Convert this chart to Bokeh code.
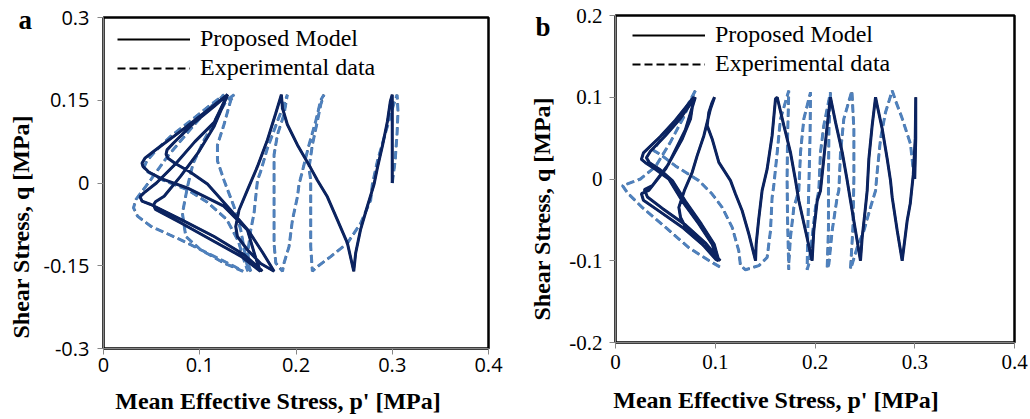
import math
from bokeh.plotting import figure
from bokeh.layouts import row
from bokeh.models import FixedTicker, Legend, LegendItem, Range1d, Title
from bokeh.embed import file_html
from bokeh.resources import INLINE

# ---------------- data ----------------
A_XTICKS = [0, 0.1, 0.2, 0.3, 0.4]
A_XLABELS = ["0", "0.1", "0.2", "0.3", "0.4"]
A_YTICKS = [-0.3, -0.15, 0, 0.15, 0.3]
A_YLABELS = ["-0.3", "-0.15", "0", "0.15", "0.3"]
B_XTICKS = [0, 0.1, 0.2, 0.3, 0.4]
B_XLABELS = ["0", "0.1", "0.2", "0.3", "0.4"]
B_YTICKS = [-0.2, -0.1, 0, 0.1, 0.2]
B_YLABELS = ["-0.2", "-0.1", "0", "0.1", "0.2"]

A_MODEL_P = [0.300, 0.300, 0.300,
             0.298, 0.295, 0.290, 0.2845, 0.281, 0.274, 0.267, 0.262, 0.260,
             0.2534, 0.243, 0.2326, 0.2222, 0.2153, 0.2015, 0.191, 0.1859, 0.1848,
             0.1789, 0.1703, 0.160, 0.1495, 0.1408, 0.1374, 0.1391, 0.1495, 0.1633, 0.1772,
             0.165, 0.150, 0.130, 0.108, 0.090, 0.075, 0.067, 0.065,
             0.066, 0.073, 0.094, 0.115, 0.129,
             0.115, 0.098, 0.080, 0.063, 0.054, 0.052,
             0.054, 0.080, 0.115, 0.143, 0.163,
             0.158, 0.1495, 0.125, 0.087, 0.060, 0.047, 0.041, 0.040,
             0.043, 0.0526, 0.0803, 0.1045, 0.1288,
             0.115, 0.095, 0.075, 0.055, 0.042, 0.038,
             0.040, 0.0492, 0.0803, 0.1149, 0.1461, 0.1634, 0.165]
A_MODEL_Q = [0.000, 0.080, 0.160,
             0.148, 0.112, 0.069, 0.027, -0.003, -0.043, -0.085, -0.127, -0.160,
             -0.109, -0.067, -0.025, 0.005, 0.027, 0.069, 0.106, 0.136, 0.160,
             0.126, 0.078, 0.030, -0.013, -0.049, -0.079, -0.097, -0.121, -0.146, -0.160,
             -0.125, -0.085, -0.045, -0.002, 0.020, 0.035, 0.045, 0.052,
             0.060, 0.073, 0.109, 0.139, 0.160,
             0.103, 0.054, 0.012, -0.024, -0.034, -0.040,
             -0.048, -0.072, -0.106, -0.133, -0.160,
             -0.135, -0.085, -0.042, -0.009, 0.008, 0.020, 0.030, 0.036,
             0.045, 0.058, 0.094, 0.127, 0.160,
             0.110, 0.075, 0.035, 0.000, -0.018, -0.025,
             -0.033, -0.039, -0.066, -0.097, -0.130, -0.157, -0.160]

A_EXP_P = [0.300, 0.303, 0.305, 0.306, 0.305,
           0.301, 0.297, 0.2914, 0.2845, 0.2793, 0.2776, 0.2672, 0.2534, 0.236, 0.2222, 0.217,
           0.2153, 0.2153, 0.2153, 0.2135, 0.217, 0.2222, 0.2257, 0.229,
           0.2257, 0.2205, 0.2135, 0.2083, 0.2031, 0.2015, 0.1963, 0.1928, 0.1875, 0.186,
           0.179, 0.1772, 0.1772, 0.1772, 0.1772, 0.1807, 0.1875, 0.191,
           0.187, 0.1807, 0.1703, 0.1633, 0.160, 0.1564, 0.153, 0.150, 0.151, 0.153,
           0.1495, 0.1426, 0.1356, 0.1252, 0.1184, 0.1184, 0.1252, 0.1322, 0.1357,
           0.128, 0.118, 0.1045, 0.093, 0.0872, 0.082, 0.0855, 0.101, 0.125, 0.145,
           0.1357, 0.1149, 0.0803, 0.0492, 0.0353, 0.0312, 0.0336, 0.0492, 0.0665, 0.0872, 0.108, 0.1218, 0.1253,
           0.110, 0.090, 0.070, 0.055, 0.045, 0.042, 0.046, 0.062, 0.087, 0.108, 0.128, 0.140, 0.146, 0.150]
A_EXP_Q = [0.000, 0.040, 0.090, 0.130, 0.160,
           0.140, 0.115, 0.0815, 0.039, -0.003, -0.031, -0.073, -0.109, -0.1335, -0.1516, -0.160,
           -0.115, -0.055, 0.005, 0.027, 0.069, 0.112, 0.142, 0.160,
           0.150, 0.112, 0.069, 0.033, -0.003, -0.025, -0.067, -0.115, -0.1455, -0.160,
           -0.145, -0.110, -0.050, -0.003, 0.051, 0.0875, 0.124, 0.160,
           0.140, 0.112, 0.063, 0.021, 0.005, -0.055, -0.085, -0.125, -0.150, -0.160,
           -0.152, -0.085, -0.043, 0.005, 0.040, 0.069, 0.106, 0.150, 0.160,
           0.150, 0.120, 0.078, 0.035, -0.007, -0.055, -0.097, -0.121, -0.145, -0.160,
           -0.151, -0.133, -0.103, -0.0785, -0.060, -0.045, -0.030, 0.006, 0.048, 0.091, 0.133, 0.154, 0.160,
           0.140, 0.112, 0.085, 0.060, 0.040, 0.028, 0.020, 0.005, -0.012, -0.035, -0.066, -0.105, -0.140, -0.160]

B_MODEL_P = [0.300, 0.301, 0.301, 0.3005, 0.2985, 0.2955, 0.2924, 0.2874,
             0.2824, 0.2774, 0.2757, 0.2724, 0.2674, 0.2624, 0.2607,
             0.2573, 0.254, 0.2523, 0.2506, 0.2473, 0.2456,
             0.2406, 0.2356, 0.2323, 0.2273, 0.2206, 0.2155,
             0.2122, 0.2088, 0.2055, 0.2022, 0.1988, 0.1971,
             0.1905, 0.1838, 0.1805, 0.1754, 0.1688, 0.1621,
             0.1604, 0.157, 0.152, 0.147, 0.1435, 0.141, 0.1404,
             0.1337, 0.127, 0.1203, 0.1153, 0.1036, 0.0969, 0.0919, 0.0936, 0.0969, 0.0993,
             0.0952, 0.0919, 0.0886, 0.0819, 0.0769, 0.069, 0.0635, 0.0652, 0.0702, 0.0869, 0.1003, 0.103,
             0.097, 0.0835, 0.0669, 0.0534, 0.040, 0.030, 0.026,
             0.028, 0.045, 0.060, 0.0785,
             0.0752, 0.0669, 0.0501, 0.0334, 0.026,
             0.028, 0.0434, 0.0669, 0.087, 0.1036,
             0.099, 0.086, 0.070, 0.057, 0.044, 0.034, 0.031,
             0.035, 0.050, 0.065, 0.080,
             0.070, 0.053, 0.037, 0.029,
             0.032, 0.047, 0.070, 0.090, 0.105]
B_MODEL_Q = [0.000, 0.050, 0.100, 0.050, 0.005, -0.030, -0.051, -0.100,
             -0.063, -0.0225, -0.002, 0.0245, 0.0612, 0.0898, 0.100,
             0.0653, 0.0245, -0.0143, -0.0348, -0.0715, -0.100,
             -0.0633, -0.0266, -0.002, 0.0326, 0.0693, 0.100,
             0.0653, 0.0245, -0.0143, -0.0266, -0.0633, -0.100,
             -0.0633, -0.0266, -0.002, 0.0326, 0.0653, 0.100,
             0.098, 0.053, 0.012, -0.014, -0.050, -0.080, -0.100,
             -0.0673, -0.0388, -0.0184, -0.002, 0.0204, 0.049, 0.0653, 0.0816, 0.0938, 0.100,
             0.0857, 0.0693, 0.053, 0.0286, 0.0082, -0.0143, -0.0347, -0.047, -0.059, -0.0796, -0.098, -0.100,
             -0.080, -0.055, -0.027, 0.000, 0.012, 0.020, 0.024,
             0.032, 0.052, 0.072, 0.100,
             0.0735, 0.049, 0.012, -0.014, -0.018,
             -0.026, -0.039, -0.059, -0.080, -0.100,
             -0.080, -0.055, -0.027, -0.002, 0.012, 0.020, 0.026,
             0.034, 0.053, 0.074, 0.100,
             0.060, 0.018, -0.008, -0.013,
             -0.022, -0.036, -0.056, -0.078, -0.100]

B_EXP_P = [0.299, 0.299, 0.2957, 0.287, 0.281, 0.2774,
           0.2707, 0.2657, 0.2623, 0.2607, 0.2556, 0.249, 0.2423, 0.2373, 0.2356,
           0.238, 0.239, 0.239, 0.237,
           0.2289, 0.2256, 0.2239, 0.2222, 0.2172, 0.2139, 0.2122,
           0.2135, 0.2135, 0.214, 0.2155,
           0.2088, 0.2055, 0.2038, 0.2005, 0.1971, 0.1938, 0.1921,
           0.193, 0.194, 0.195, 0.1955,
           0.1888, 0.1855, 0.1838, 0.1788, 0.1754, 0.1737, 0.1737,
           0.1725, 0.172, 0.1725, 0.1737,
           0.1654, 0.1621, 0.1587, 0.157, 0.1554, 0.152, 0.1437, 0.1303, 0.1253, 0.1236,
           0.117, 0.1069, 0.0969, 0.0835, 0.0601, 0.045, 0.038,
           0.045, 0.060, 0.070, 0.080,
           0.068, 0.055, 0.040, 0.025, 0.012, 0.007,
           0.012, 0.027, 0.050, 0.0735, 0.094, 0.108]
B_EXP_Q = [0.000, 0.006, 0.043, 0.0755, 0.095, 0.108,
           0.0816, 0.049, 0.0082, -0.0143, -0.0348, -0.0633, -0.0837, -0.104, -0.110,
           -0.060, 0.000, 0.060, 0.108,
           0.0735, 0.0326, -0.014, -0.0225, -0.0633, -0.104, -0.110,
           -0.060, 0.000, 0.060, 0.106,
           0.0653, 0.0326, -0.014, -0.0348, -0.0715, -0.104, -0.111,
           -0.050, 0.000, 0.050, 0.106,
           0.0735, 0.0326, -0.014, -0.0348, -0.0715, -0.104, -0.111,
           -0.050, 0.000, 0.050, 0.108,
           0.0735, 0.0326, -0.008, -0.0225, -0.063, -0.096, -0.106, -0.111, -0.106, -0.088,
           -0.0592, -0.0347, -0.0184, -0.002, 0.016, 0.030, 0.035,
           0.048, 0.070, 0.085, 0.108,
           0.075, 0.045, 0.015, 0.000, -0.006, -0.008,
           -0.017, -0.035, -0.059, -0.084, -0.100, -0.110]

LEGEND_LABELS = ["Proposed Model", "Experimental data"]
PANEL_LABELS = ["a", "b"]
X_TITLE = "Mean Effective Stress, p' [MPa]"
Y_TITLE = "Shear Stress, q [MPa]"

MODEL_COLOR = "#0B2360"
EXP_COLOR = "#4F81BD"
SERIF = "Liberation Serif"
NBSP = "\u00a0"


def make_panel(mp, mq, ep, eq, xticks, xlabels, yticks, ylabels, xr, yr, frame,
               tick_font, tick_size, ystand, xstand, xlab_stand, xlab_pad,
               ytitle_off, ytitle_stand, plabel, plabel_off, plabel_stand,
               legend_vy, legend_left_off, legend_spacing):
    left, top, w, h = frame
    p = figure(width=515, height=419, output_backend="svg", toolbar_location=None,
               x_range=Range1d(*xr), y_range=Range1d(*yr),
               min_border_left=left, min_border_top=top,
               min_border_right=515 - left - w, min_border_bottom=419 - top - h)
    try:
        p.frame_align = False
    except Exception:
        pass
    p.grid.visible = False
    p.outline_line_color = "black"
    p.outline_line_width = 2.5
    p.background_fill_color = "white"
    p.border_fill_color = "white"

    for ax, ticks, labels, stand in ((p.xaxis[0], xticks, xlabels, xstand),
                                     (p.yaxis[0], yticks, ylabels, ystand)):
        ax.ticker = FixedTicker(ticks=ticks)
        ax.major_label_overrides = {t: l for t, l in zip(ticks, labels)}
        ax.minor_tick_line_color = None
        ax.major_tick_in = 0
        ax.major_tick_out = 6
        ax.major_tick_line_color = "#868686"
        ax.axis_line_color = "#868686"
        ax.axis_line_width = 1
        ax.major_label_text_font = tick_font
        ax.major_label_text_font_size = tick_size
        ax.major_label_text_color = "black"
        ax.major_label_standoff = stand

    xa = p.xaxis[0]
    # trailing no-break spaces move the centred title left of the frame centre, as in the source
    xa.axis_label = X_TITLE + NBSP * xlab_pad
    xa.axis_label_text_font = SERIF
    xa.axis_label_text_font_style = "bold"
    xa.axis_label_text_font_size = "24px"
    xa.axis_label_text_color = "black"
    xa.axis_label_standoff = xlab_stand

    # black under-strokes that serve as the legend samples (hidden under the coloured lines)
    r2 = p.line(x=ep, y=eq, line_color="black", line_width=2, line_dash="8 4")
    p.line(x=ep, y=eq, line_color=EXP_COLOR, line_width=3, line_dash="8 4")
    r1 = p.line(x=mp, y=mq, line_color="black", line_width=2)
    p.line(x=mp, y=mq, line_color=MODEL_COLOR, line_width=3)

    leg = Legend(items=[LegendItem(label=LEGEND_LABELS[0], renderers=[r1]),
                        LegendItem(label=LEGEND_LABELS[1], renderers=[r2])],
                 location=(legend_left_off, legend_vy),
                 padding=0, margin=0, spacing=legend_spacing,
                 glyph_width=73, glyph_height=20, label_height=20, label_standoff=10,
                 label_text_font=SERIF, label_text_font_size="24px", label_text_color="black",
                 border_line_color=None, background_fill_alpha=0)
    p.add_layout(leg)

    p.add_layout(Title(text=Y_TITLE, align="left", vertical_align="top",
                       offset=ytitle_off, standoff=ytitle_stand,
                       text_font=SERIF, text_font_style="bold", text_font_size="24px",
                       text_color="black"), "left")
    p.add_layout(Title(text=plabel, align="left", offset=plabel_off, standoff=plabel_stand,
                       text_font=SERIF, text_font_style="bold", text_font_size="27px",
                       text_color="black"), "above")
    return p


pa = make_panel(A_MODEL_P, A_MODEL_Q, A_EXP_P, A_EXP_Q, A_XTICKS, A_XLABELS, A_YTICKS, A_YLABELS,
                (0, 0.4), (-0.3, 0.3), (103, 17, 385, 331), "Open Sans", "20px", 8, 3, 13, 6,
                10, 10, PANEL_LABELS[0], -85, -34, 267, 14, 2)
pb = make_panel(B_MODEL_P, B_MODEL_Q, B_EXP_P, B_EXP_Q, B_XTICKS, B_XLABELS, B_YTICKS, B_YLABELS,
                (0, 0.4), (-0.2, 0.2), (100, 15, 399, 327), SERIF, "21px", 7, 6, 15, 13,
                22, 19, PANEL_LABELS[1], -80, -52, 265, 17, 2)

layout = row(pa, pb)
open("out.html", "w").write(file_html(layout, INLINE))
